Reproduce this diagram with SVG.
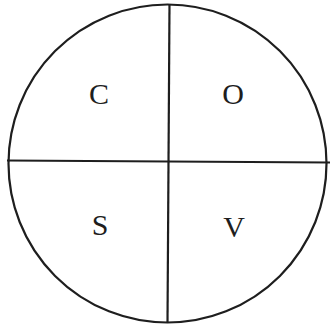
<svg xmlns="http://www.w3.org/2000/svg" width="330" height="326" viewBox="0 0 330 326">
<style>
.ln{stroke:#1e1e1e;stroke-width:2.2;fill:none}
.lb{font-family:"Liberation Serif","Times New Roman",serif;font-size:30px;fill:#1e1e1e;text-anchor:middle}
</style>
<rect width="330" height="326" fill="#fff"/>
<g id="circle"><circle class="ln" cx="167.5" cy="163.5" r="159"/></g>
<g id="connectors">
<line class="ln" x1="169.5" y1="4" x2="167.5" y2="322"/>
<line class="ln" x1="7" y1="160.5" x2="330" y2="162.5"/>
</g>
<g id="C"><text class="lb" x="99" y="104">C</text></g>
<g id="O"><text class="lb" x="233" y="104">O</text></g>
<g id="S"><text class="lb" x="100" y="235">S</text></g>
<g id="V"><text class="lb" x="234" y="237">V</text></g>
</svg>
